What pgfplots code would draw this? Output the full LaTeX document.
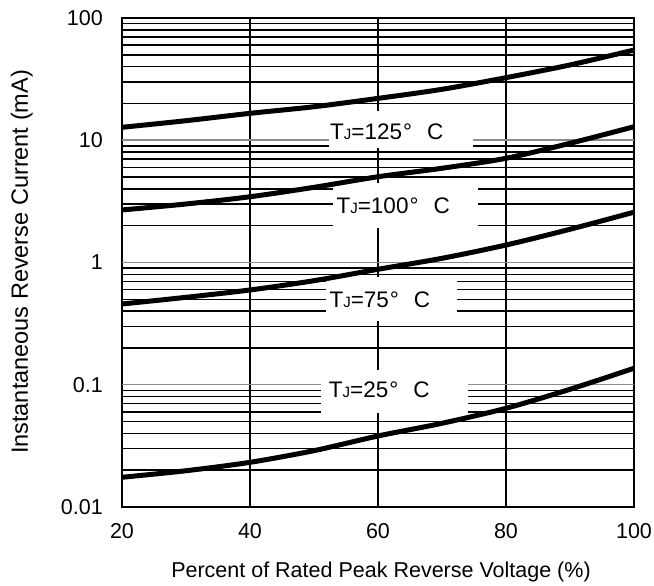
\documentclass[border=0pt]{standalone}
\usepackage{pgfplots}
\pgfplotsset{compat=1.18}
\usepackage{fontspec}
\setmainfont{Liberation Sans}
\definecolor{gridgray}{RGB}{140,140,140}
\newcommand{\TJ}[1]{{\fontsize{22.5}{26}\selectfont T{\fontsize{15}{15}\selectfont J}=#1\hspace{1pt}\char"00B0\hspace{15pt}C}}
\begin{document}
\begin{tikzpicture}[font=\fontsize{21}{25}\selectfont]
\begin{axis}[name=ax, at={(0pt,0pt)}, anchor=south west,
  scale only axis, width=512pt, height=489pt,
  xmin=20, xmax=100, ymode=log, ymin=0.01, ymax=100,
  xtick={20,40,60,80,100},
  ytick={0.01,0.1,1,10,100}, yticklabels={0.01,0.1,1,10,100},
  /pgf/number format/assume math mode=true,
  major tick length=0pt, minor tick length=0pt,
  xmajorgrids=true, yminorgrids=true,
  major grid style={line width=1.5pt, draw=black},
  minor grid style={line width=1.5pt, draw=black},
  extra y ticks={0.1,1,10}, extra y tick labels={},
  extra y tick style={grid=major, major grid style={line width=1.5pt, draw=gridgray}},
  axis line style={line width=2pt},
  yticklabel style={inner sep=0pt, xshift=-19pt, font=\fontsize{21.5}{25}\selectfont},
  xticklabel style={inner sep=0pt, yshift=-16pt, font=\fontsize{21.5}{25}\selectfont},
]
\fill[white] (axis cs:52.34,17.3) rectangle (axis cs:74.84,8.65);
\fill[white] (axis cs:52.97,4.47) rectangle (axis cs:75.63,1.91);
\fill[white] (axis cs:51.88,0.761) rectangle (axis cs:72.34,0.332);
\fill[white] (axis cs:51.09,0.132) rectangle (axis cs:74.06,0.0588);
\node[anchor=west, inner sep=0pt] at (axis cs:52.5,11.75) {\TJ{125}};
\node[anchor=west, inner sep=0pt] at (axis cs:53.5,2.90) {\TJ{100}};
\node[anchor=west, inner sep=0pt] at (axis cs:52.4,0.4935) {\TJ{75}};
\node[anchor=west, inner sep=0pt] at (axis cs:52.3,0.0906) {\TJ{25}};
\addplot[black, line width=5pt, smooth] coordinates {
(20,12.76) (30,14.45) (40,16.6) (50,18.8) (60,22.0) (70,26.1) (80,32.5) (90,41.3) (100,54.7)};
\addplot[black, line width=5pt, smooth] coordinates {
(20,2.69) (30,3.01) (40,3.45) (50,4.12) (60,5.03) (70,5.90) (80,7.12) (90,9.44) (100,12.9)};
\addplot[black, line width=5pt, smooth] coordinates {
(20,0.4575) (30,0.519) (40,0.596) (50,0.710) (60,0.880) (70,1.082) (80,1.39) (90,1.87) (100,2.58)};
\addplot[black, line width=5pt, smooth] coordinates {
(20,0.0175) (30,0.0198) (40,0.0232) (50,0.0289) (60,0.0381) (70,0.0484) (80,0.0642) (90,0.0918) (100,0.1364)};
\end{axis}
\node[anchor=base, font=\fontsize{21.5}{25}\selectfont] at (259pt,-71pt) {Percent of Rated Peak Reverse Voltage (\%)};
\node[anchor=base, rotate=90, font=\fontsize{23.5}{27}\selectfont] at (-94pt,245pt) {Instantaneous Reverse Current (mA)};
\pgfresetboundingbox
\useasboundingbox (-122pt,-79pt) rectangle (532pt,507pt);
\end{tikzpicture}
\end{document}
